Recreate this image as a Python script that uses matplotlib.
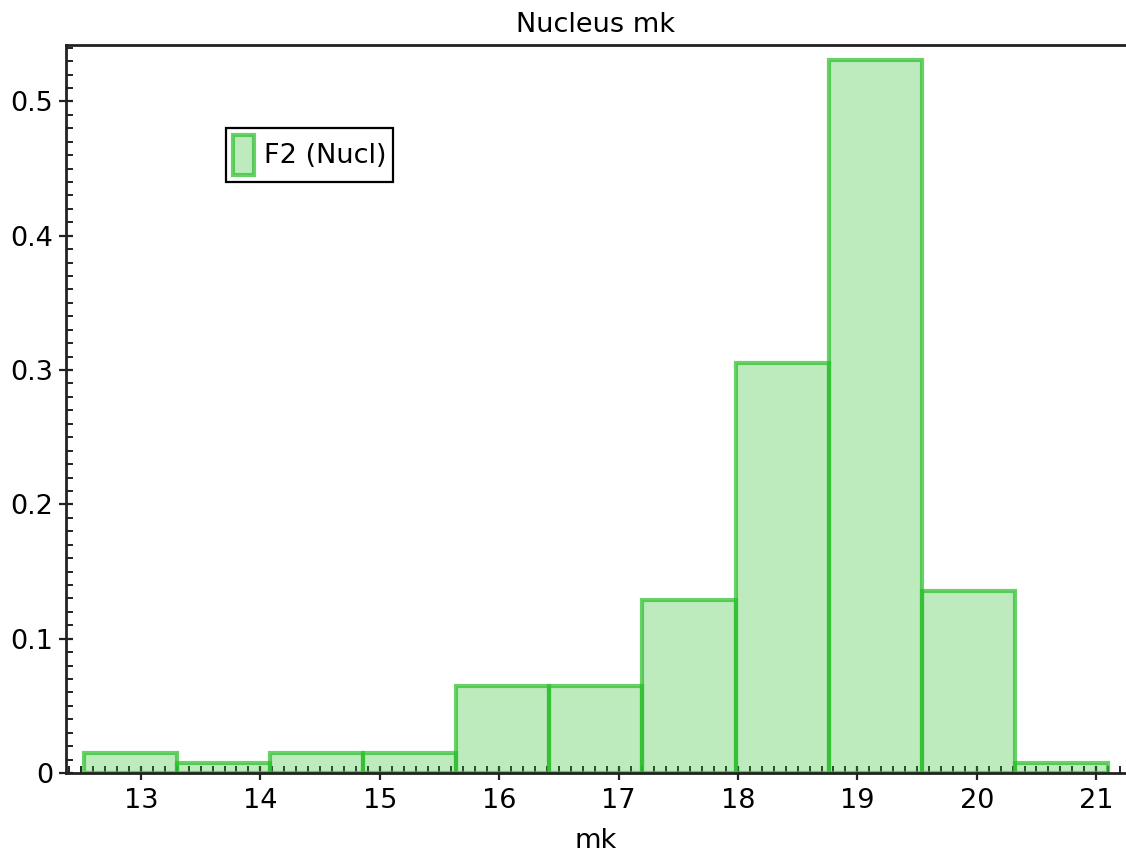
import matplotlib
matplotlib.use("Agg")
import matplotlib.pyplot as plt
from matplotlib.ticker import MultipleLocator

# Histogram of nucleus mk (density-normalised)
bin_edges = [12.52, 13.30, 14.08, 14.86, 15.64, 16.42, 17.20, 17.98, 18.76, 19.54, 20.32, 21.10]
density = [0.0152, 0.0078, 0.0152, 0.0152, 0.0645, 0.0645, 0.129, 0.305, 0.531, 0.1355, 0.0078]
series_label = "F2 (Nucl)"
title = "Nucleus mk"
x_label = "mk"
x_ticks = [13, 14, 15, 16, 17, 18, 19, 20, 21]
y_ticks = [0, 0.1, 0.2, 0.3, 0.4, 0.5]
y_tick_labels = ["0", "0.1", "0.2", "0.3", "0.4", "0.5"]

plt.rcParams["font.family"] = ["DejaVu Sans"]
FS = 19.5

W, H = 1126, 859
fig = plt.figure(figsize=(W / 100, H / 100), dpi=100)
ax = fig.add_axes([66 / W, 1 - 773 / H, (W - 66) / W, (773 - 45) / H])

green = (40 / 255, 190 / 255, 40 / 255)
lefts = bin_edges[:-1]
widths = [b - a for a, b in zip(bin_edges[:-1], bin_edges[1:])]
ax.bar(lefts, density, width=widths, align="edge",
       facecolor=(*green, 0.3), edgecolor=(*green, 0.7), linewidth=3,
       label=series_label, zorder=2)

ax.set_xlim(12.372, 21.25)
ax.set_ylim(0, 0.542)

ax.set_xticks(x_ticks)
ax.set_xticklabels([str(t) for t in x_ticks])
ax.set_yticks(y_ticks)
ax.set_yticklabels(y_tick_labels)
ax.xaxis.set_minor_locator(MultipleLocator(0.1))
ax.yaxis.set_minor_locator(MultipleLocator(0.01))

ax.tick_params(axis="both", which="major", direction="inout", length=10, width=1.6,
               labelsize=FS, color="#222222")
ax.tick_params(axis="both", which="minor", direction="in", length=5, width=1.4,
               color="#222222")
ax.tick_params(axis="x", which="major", pad=6)
ax.tick_params(axis="y", which="major", pad=4)
ax.tick_params(top=False, right=False, which="both")

for side in ["left", "bottom", "top"]:
    ax.spines[side].set_linewidth(2)
    ax.spines[side].set_color("#222222")
ax.spines["right"].set_visible(False)

ax.set_title(title, fontsize=FS, pad=9)
ax.set_xlabel(x_label, fontsize=FS, labelpad=10)

leg = ax.legend(loc="upper left", bbox_to_anchor=(0.151, 0.886), borderaxespad=0,
                fontsize=FS, fancybox=False, frameon=True, framealpha=1,
                edgecolor="black", handlelength=0.8, handleheight=1.9,
                handletextpad=0.35, borderpad=0.25)
leg.get_frame().set_linewidth(1.6)

fig.savefig("out.png", dpi=100, facecolor="white")
